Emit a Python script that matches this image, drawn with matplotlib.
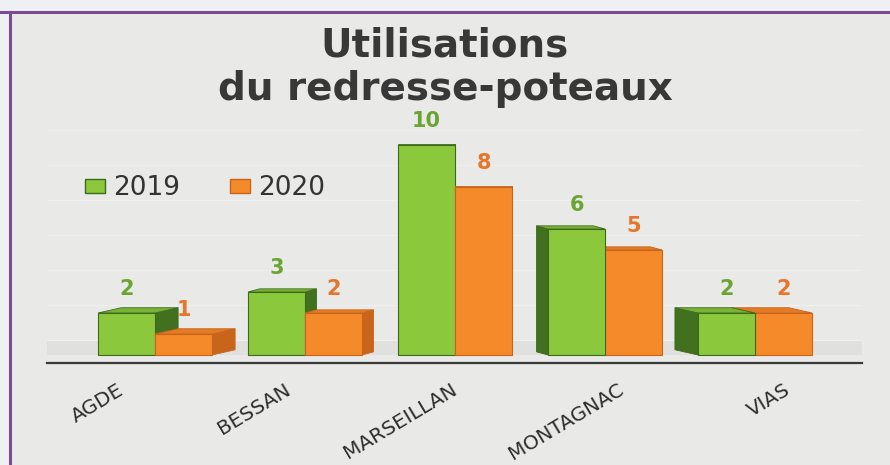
import numpy as np
import matplotlib.pyplot as plt
from matplotlib.patches import Patch, Polygon, Rectangle

communes = ['AGDE', 'BESSAN', 'MARSEILLAN', 'MONTAGNAC', 'VIAS']
val_2019 = [2, 3, 10, 6, 2]
val_2020 = [1, 2, 8, 5, 2]
years = ['2019', '2020']

green = '#8cc83c'
green_side = '#41701f'
green_top = '#79b336'
green_edge = '#3d6a1e'
green_txt = '#6aa432'
orange = '#f48a2a'
orange_side = '#c9651b'
orange_top = '#e47b24'
orange_edge = '#c8641c'
orange_txt = '#e5762a'

bg = '#e9e9e7'

fig = plt.figure(figsize=(8.9, 4.65), dpi=100)
fig.patch.set_facecolor(bg)

# photo frame: pale strip + purple border at top and left
fig.add_artist(Rectangle((0, 1 - 11 / 465), 1, 11 / 465, transform=fig.transFigure,
                         color='#eef0f4', zorder=0))
fig.add_artist(Rectangle((0, 0), 9 / 890, 1, transform=fig.transFigure,
                         color='#eef0f4', zorder=0))
fig.add_artist(plt.Line2D([0, 1], [1 - 12 / 465] * 2, transform=fig.transFigure,
                          color='#7a4b93', lw=2.2))
fig.add_artist(plt.Line2D([10 / 890] * 2, [0, 1 - 12 / 465], transform=fig.transFigure,
                          color='#7a4b93', lw=2.2))

ax = fig.add_axes([47 / 890, 0.2185, 815 / 890, 0.5374])
ax.set_facecolor('none')
ax.set_xlim(-0.72, 4.713)
ax.set_ylim(-0.4, 11.5)
for s in ['top', 'right', 'left']:
    ax.spines[s].set_visible(False)
ax.spines['bottom'].set_color('#3a3a3a')
ax.spines['bottom'].set_linewidth(1.6)
ax.set_xticks([])
ax.set_yticks([])

# back wall of the 3D chart: floor band and faint gridlines
ax.axhspan(0, 0.7, color='#e0e0de', zorder=0, lw=0)
for v in range(0, 13, 2):
    ax.axhline(0.714 + 0.833 * v, color='#efefed', lw=0.8, zorder=0.5)

x = np.arange(len(communes))
w = 0.38


def draw_bar(x0, h, dx, dy, face, side, top, edge, z):
    ax.bar(x0, h, w, align='edge', color=face, edgecolor=edge, linewidth=0.8, zorder=z + 0.5)
    x1 = x0 + w
    if dx >= 0:
        pts = [(x1, 0), (x1 + dx, dy), (x1 + dx, h + dy), (x1, h)]
    else:
        pts = [(x0, 0), (x0 + dx, dy), (x0 + dx, h + dy), (x0, h)]
    ax.add_patch(Polygon(pts, closed=True, facecolor=side, edgecolor=edge, lw=0.6, zorder=z))
    ax.add_patch(Polygon([(x0, h), (x1, h), (x1 + dx, h + dy), (x0 + dx, h + dy)],
                         closed=True, facecolor=top, edgecolor=edge, lw=0.6, zorder=z))


for i in range(len(communes)):
    dx = -0.077 * (i - 2)
    dy = 0.05 + 0.1 * abs(i - 2)
    zg, zo = (2, 4) if dx >= 0 else (4, 2)
    draw_bar(x[i] - w, val_2019[i], dx, dy, green, green_side, green_top, green_edge, zg)
    draw_bar(x[i], val_2020[i], dx, dy, orange, orange_side, orange_top, orange_edge, zo)
    ax.text(x[i] - w / 2, val_2019[i] + 0.68, str(val_2019[i]), ha='center', va='bottom',
            fontsize=15, fontweight='bold', color=green_txt, zorder=6)
    ax.text(x[i] + w / 2, val_2020[i] + 0.68, str(val_2020[i]), ha='center', va='bottom',
            fontsize=15, fontweight='bold', color=orange_txt, zorder=6)
    ax.text(x[i] + 0.11 * (i - 2) - 0.03, -1.2, communes[i], rotation=31, rotation_mode='anchor',
            ha='right', va='top', fontsize=14.5, color='#2e2e2e', clip_on=False)

fig.text(0.5, 1 - 56 / 465, 'Utilisations', ha='center', va='baseline',
         fontsize=28, fontweight='bold', color='#383838')
fig.text(0.5, 1 - 100 / 465, 'du redresse-poteaux', ha='center', va='baseline',
         fontsize=28, fontweight='bold', color='#383838')

handles = [Patch(facecolor=green, edgecolor=green_edge), Patch(facecolor=orange, edgecolor=orange_edge)]
fig.legend(handles, years, loc='center left', bbox_to_anchor=(72 / 890, 1 - 188 / 465),
           ncol=2, frameon=False, fontsize=19, handlelength=0.75, handleheight=0.45,
           handletextpad=0.3, columnspacing=1.9, borderpad=0, labelcolor='#333333')

fig.savefig('out.png', dpi=100, facecolor=fig.get_facecolor())
